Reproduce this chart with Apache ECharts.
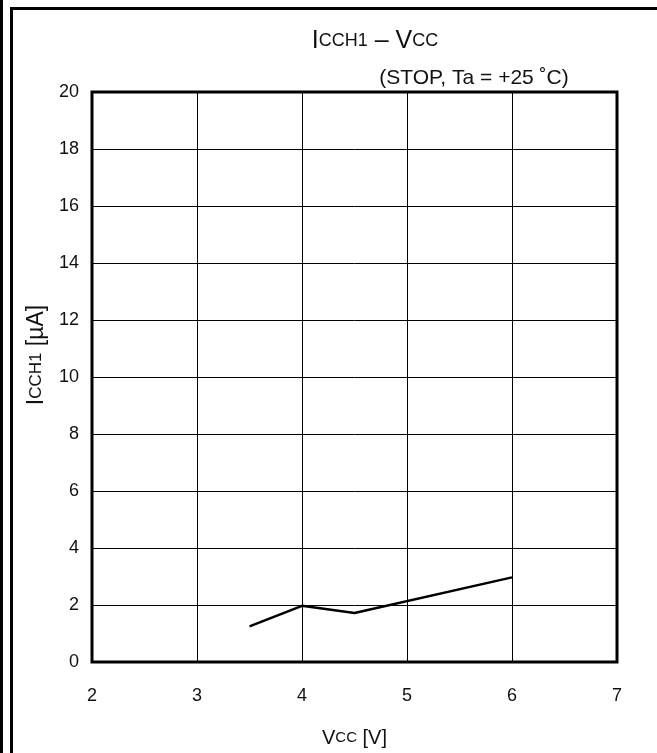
<!DOCTYPE html>
<html>
<head>
<meta charset="utf-8">
<script src="https://cdn.jsdelivr.net/npm/echarts@6/dist/echarts.min.js"></script>
<style>
  html, body { margin: 0; padding: 0; background: #fff; }
  #chart { width: 657px; height: 753px; }
</style>
</head>
<body>
<div id="chart"></div>
<script>
// ICCH1 - VCC (STOP, Ta = +25 °C)
const vcc = [3.5, 4.0, 4.5, 6.0];
const icch1 = [1.25, 1.97, 1.72, 2.97];
const xTicks = [2, 3, 4, 5, 6, 7];
const yTicks = [0, 2, 4, 6, 8, 10, 12, 14, 16, 18, 20];

const font = "Liberation Sans, Arial, sans-serif";

const chart = echarts.init(document.getElementById("chart"));

const option = {
  backgroundColor: "#fff",
  animation: false,
  title: [
    {
      text: "{a|I}{b|CCH1}{a| – V}{b|CC}",
      left: 370,
      top: 24,
      textAlign: "center",
      textStyle: {
        fontWeight: "normal",
        rich: {
          a: { fontFamily: font, fontSize: 25, fontWeight: "normal", color: "#111" },
          b: { fontFamily: font, fontSize: 18, fontWeight: "normal", color: "#111" },
        },
      },
    },
    {
      text: "(STOP, Ta = +25 ˚C)",
      left: 469,
      top: 63,
      textAlign: "center",
      textStyle: { fontFamily: font, fontSize: 21, fontWeight: "normal", color: "#111" },
    },
  ],
  grid: {
    left: 92,
    right: 40,
    top: 92,
    bottom: 90,
    show: true,
    borderColor: "#000",
    borderWidth: 3,
  },
  xAxis: {
    type: "value",
    min: xTicks[0],
    max: xTicks[xTicks.length - 1],
    interval: 1,
    name: "{a|V}{b|CC}{a| [V]}",
    nameLocation: "middle",
    nameGap: 66,
    nameTextStyle: {
      rich: {
        a: { fontFamily: font, fontSize: 20, color: "#111" },
        b: { fontFamily: font, fontSize: 15, color: "#111" },
      },
    },
    axisLine: { show: false },
    axisTick: { show: false },
    axisLabel: { fontFamily: font, fontSize: 18, color: "#111", margin: 25 },
    splitLine: { show: true, lineStyle: { color: "#000", width: 1 } },
  },
  yAxis: {
    type: "value",
    min: yTicks[0],
    max: yTicks[yTicks.length - 1],
    interval: 2,
    name: "{a|I}{b|CCH1}{a| [µA]}",
    nameLocation: "middle",
    nameGap: 37,
    nameRotate: 90,
    nameTextStyle: {
      padding: [0, 0, 0, 44],
      rich: {
        a: { fontFamily: font, fontSize: 23, color: "#111" },
        b: { fontFamily: font, fontSize: 17, color: "#111" },
      },
    },
    axisLine: { show: false },
    axisTick: { show: false },
    axisLabel: { fontFamily: font, fontSize: 18, color: "#111", margin: 13 },
    splitLine: { show: true, lineStyle: { color: "#000", width: 1 } },
  },
  series: [
    {
      type: "line",
      data: vcc.map((v, i) => [v, icch1[i]]),
      showSymbol: false,
      lineStyle: { color: "#000", width: 2.5 },
    },
  ],
  graphic: [
    { type: "rect", shape: { x: 0, y: 0, width: 3, height: 753 }, style: { fill: "#000" } },
    { type: "rect", shape: { x: 10, y: 7, width: 3, height: 746 }, style: { fill: "#000" } },
    { type: "rect", shape: { x: 10, y: 7, width: 647, height: 3 }, style: { fill: "#000" } },
  ],
};

chart.setOption(option);
</script>
</body>
</html>
